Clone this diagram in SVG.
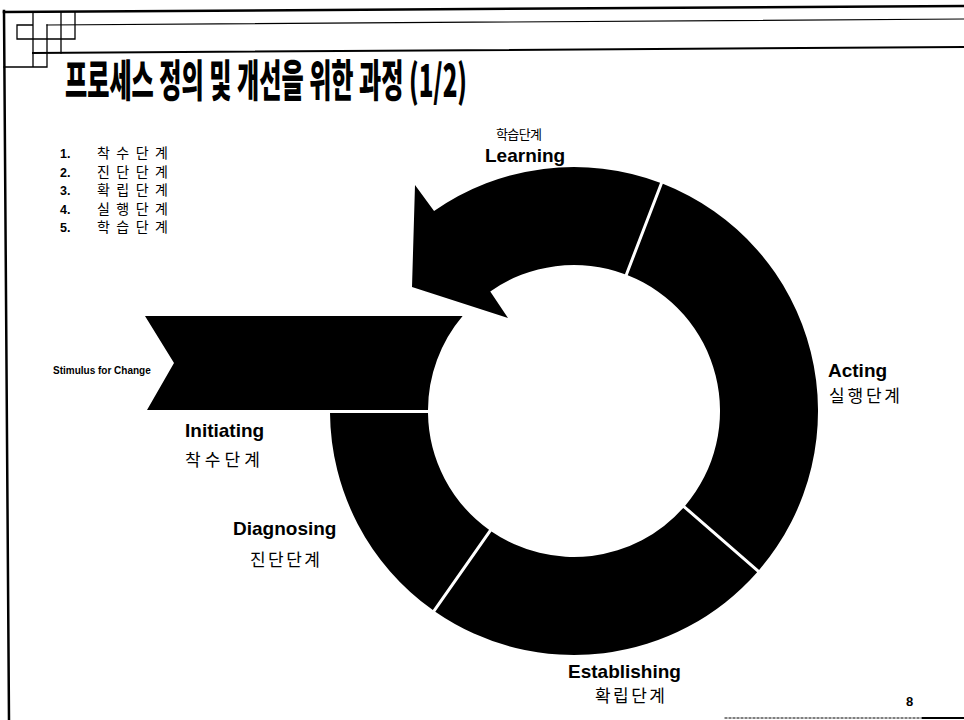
<svg xmlns="http://www.w3.org/2000/svg" width="964" height="720" viewBox="0 0 964 720">
<style>
.frame{fill:none;stroke:#000;stroke-linecap:square}
.seg{fill:#000;stroke:none}
.en{font-family:"Liberation Sans",Arial,sans-serif;font-weight:bold;font-size:19px;fill:#000}
.ko{font-family:"Noto Sans CJK KR","Noto Sans",sans-serif;font-size:17px;fill:#000}
.kol{font-family:"Noto Sans CJK KR","Noto Sans",sans-serif;font-size:14px;fill:#000}
.kos{font-family:"Noto Sans CJK KR","Noto Sans",sans-serif;font-size:13px;fill:#000}
.num{font-family:"Liberation Sans",Arial,sans-serif;font-weight:bold;font-size:12.5px;fill:#000}
.title{font-family:"Noto Sans CJK KR","Noto Sans",sans-serif;font-weight:900;font-size:44px;fill:#000}
.small{font-family:"Liberation Sans",Arial,sans-serif;font-weight:bold;font-size:10px;fill:#000}
.pg{font-family:"Liberation Sans",Arial,sans-serif;font-weight:bold;font-size:13px;fill:#000}
</style>
<rect width="964" height="720" fill="#fff"/>
<g id="frame">
  <path class="frame" d="M4,12 L964,6" stroke-width="2.5"/>
  <path class="frame" d="M47,25 L964,19" stroke-width="1.2"/>
  <path class="frame" d="M33,53 L964,47" stroke-width="2"/>
  <path class="frame" d="M4,11 L9,720" stroke-width="2.5"/>
  <path class="frame" d="M17,25 H33 M17,39 H75 M4,67 H47 M17,25 V39 M33,12 V67 M47,25 V67 M61,12 V53 M75,12 V39" stroke-width="1.3"/>
  <path class="frame" d="M725,718 H923" stroke-width="1" stroke-dasharray="2 2" stroke-linecap="butt"/>
  <path class="frame" d="M923,718 H964" stroke-width="2"/>
</g>
<g id="title">
  <text class="title" x="65" y="97" textLength="402" lengthAdjust="spacingAndGlyphs">프로세스 정의 및 개선을 위한 과정 (1/2)</text>
</g>
<g id="legend">
  <text class="num" x="60" y="158">1.</text><text class="kol" x="97" y="158" textLength="71">착수단계</text>
  <text class="num" x="60" y="176.5">2.</text><text class="kol" x="97" y="176.5" textLength="71">진단단계</text>
  <text class="num" x="60" y="195">3.</text><text class="kol" x="97" y="195" textLength="71">확립단계</text>
  <text class="num" x="60" y="213.5">4.</text><text class="kol" x="97" y="213.5" textLength="71">실행단계</text>
  <text class="num" x="60" y="232">5.</text><text class="kol" x="97" y="232" textLength="71">학습단계</text>
</g>
<g id="node-initiating">
  <path class="seg" d="M145,316 L462.6,316 A146 146 0 0 0 428,410 L147,410 L174,363 Z"/>
  <text class="small" x="53" y="374">Stimulus for Change</text>
  <text class="en" x="185" y="437">Initiating</text>
  <text class="ko" x="185" y="466" textLength="75">착수단계</text>
</g>
<g id="node-diagnosing">
  <path class="seg" d="M432.81,610.02 A244 244 0 0 1 330,413 L428,413 A146 146 0 0 0 489.02,529.74 Z"/>
  <text class="en" x="233" y="535">Diagnosing</text>
  <text class="ko" x="250" y="566" textLength="70">진단단계</text>
</g>
<g id="node-establishing">
  <path class="seg" d="M757.17,572.22 A244 244 0 0 1 435.27,611.74 L491.48,531.46 A146 146 0 0 0 683.21,507.92 Z"/>
  <text class="en" x="568" y="678">Establishing</text>
  <text class="ko" x="595" y="702" textLength="70">확립단계</text>
</g>
<g id="node-acting">
  <path class="seg" d="M662.85,183.74 A244 244 0 0 1 759.13,569.96 L685.17,505.66 A146 146 0 0 0 627.73,275.23 Z"/>
  <text class="en" x="828" y="377">Acting</text>
  <text class="ko" x="829" y="402" textLength="71">실행단계</text>
</g>
<g id="node-learning">
  <path class="seg" d="M660.05,182.66 A244 244 0 0 0 434.04,211.12 L415,185 L412,287 L508,318 L490.25,291.4 A146 146 0 0 1 624.93,274.15 Z"/>
  <text class="kos" x="496" y="139" textLength="46">학습단계</text>
  <text class="en" x="485" y="162">Learning</text>
</g>
<g id="connectors"></g>
<g id="page-number">
  <text class="pg" x="906" y="706">8</text>
</g>
</svg>
